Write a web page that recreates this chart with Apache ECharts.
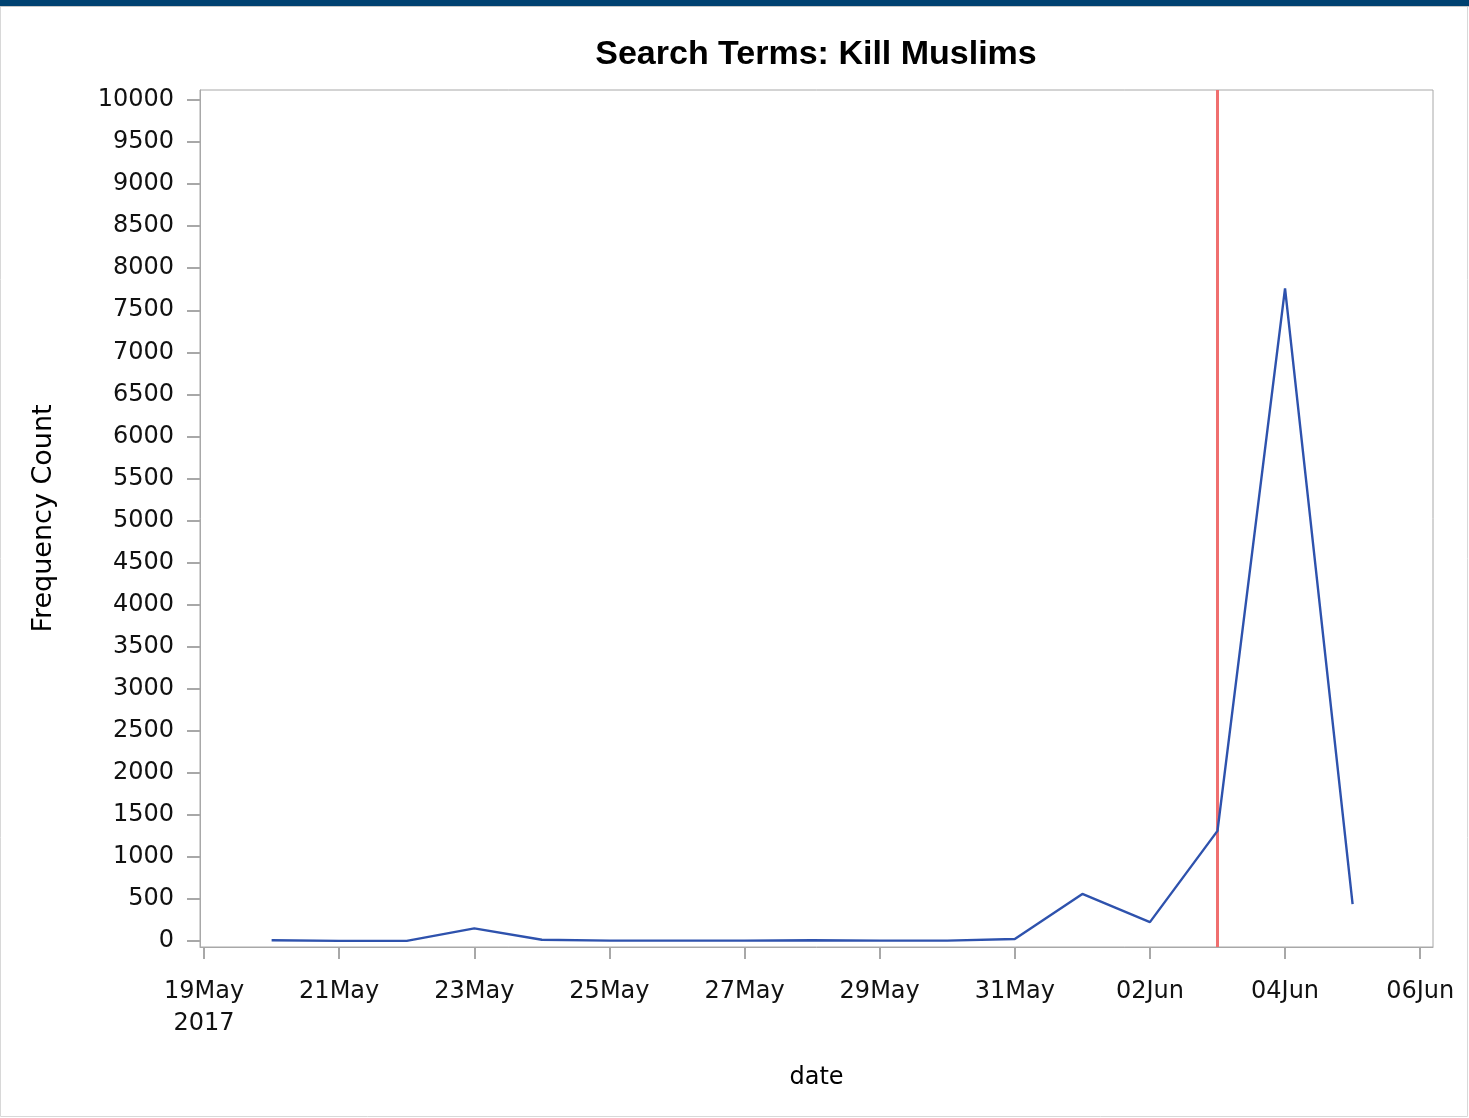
<!DOCTYPE html>
<html>
<head>
<meta charset="utf-8">
<script src="https://cdn.jsdelivr.net/npm/echarts@6/dist/echarts.min.js"></script>
<style>
html,body{margin:0;padding:0;background:#fff;}
#chart{width:1469px;height:1118px;}
</style>
</head>
<body>
<div id="chart"></div>
<script>
// ---- data ----
const startDate = '2017-05-19';
const dates = ['2017-05-20','2017-05-21','2017-05-22','2017-05-23','2017-05-24','2017-05-25','2017-05-26','2017-05-27','2017-05-28','2017-05-29','2017-05-30','2017-05-31','2017-06-01','2017-06-02','2017-06-03','2017-06-04','2017-06-05'];
const counts = [10, 2, 2, 150, 15, 5, 5, 5, 10, 5, 5, 25, 560, 225, 1310, 7760, 440];
const markerDate = '2017-06-03';
const xTickDates = ['2017-05-19','2017-05-21','2017-05-23','2017-05-25','2017-05-27','2017-05-29','2017-05-31','2017-06-02','2017-06-04','2017-06-06'];
const yTicks = [0,500,1000,1500,2000,2500,3000,3500,4000,4500,5000,5500,6000,6500,7000,7500,8000,8500,9000,9500,10000];
const monthNames = ['Jan','Feb','Mar','Apr','May','Jun','Jul','Aug','Sep','Oct','Nov','Dec'];

const DAY = 86400000;
const t0 = Date.parse(startDate + 'T00:00:00Z');
const dayIdx = d => (Date.parse(d + 'T00:00:00Z') - t0) / DAY;
const seriesData = dates.map((d, i) => [dayIdx(d), counts[i]]);
const xTickVals = xTickDates.map(dayIdx);
function fmtX(v) {
  const dt = new Date(t0 + Math.round(v) * DAY);
  const dd = String(dt.getUTCDate()).padStart(2, '0');
  let s = dd + monthNames[dt.getUTCMonth()];
  if (Math.round(v) === 0) s += '\n' + dt.getUTCFullYear();
  return s;
}

const FONT = 'DejaVu Sans';
const chart = echarts.init(document.getElementById('chart'), null, {renderer: 'canvas'});
chart.setOption({
  backgroundColor: '#ffffff',
  animation: false,
  graphic: [
    {type: 'rect', shape: {x: 0.5, y: 0.5, width: 1467, height: 1116}, style: {fill: 'none', stroke: '#d8d8d8', lineWidth: 1}, z: 0},
    {type: 'rect', shape: {x: 0, y: 0, width: 1469, height: 6}, style: {fill: '#004271'}, z: 10},
    {type: 'rect', shape: {x: 0, y: 6, width: 1469, height: 1}, style: {fill: '#c8c8c8'}, z: 10}
  ],
  title: {
    text: 'Search Terms: Kill Muslims',
    left: 811, top: 33, textAlign: 'center',
    textStyle: {fontFamily: 'Liberation Sans', fontWeight: 'bold', fontSize: 34, color: '#000'}
  },
  grid: {left: 200, top: 90, width: 1233, height: 857, show: true, borderColor: '#a8a8a8', borderWidth: 1, containLabel: false},
  xAxis: {
    type: 'value',
    min: -0.06, max: 18.19,
    name: 'date', nameLocation: 'middle', nameGap: 119,
    nameTextStyle: {fontFamily: FONT, fontSize: 24, color: '#000'},
    axisLine: {show: true, onZero: false, lineStyle: {color: '#a8a8a8', width: 1}},
    axisTick: {show: true, customValues: xTickVals, length: 12, lineStyle: {color: '#a8a8a8', width: 2}},
    axisLabel: {customValues: xTickVals, formatter: fmtX, margin: 29, fontFamily: FONT, fontSize: 24, color: '#111', lineHeight: 32, verticalAlign: 'top'},
    splitLine: {show: false}
  },
  yAxis: {
    type: 'value',
    min: -71, max: 10119,
    name: 'Frequency Count', nameLocation: 'middle', nameGap: 143, nameRotate: 90,
    nameTextStyle: {fontFamily: FONT, fontSize: 27, color: '#000'},
    axisLine: {show: true, onZero: false, lineStyle: {color: '#a8a8a8', width: 1}},
    axisTick: {show: true, customValues: yTicks, length: 13, lineStyle: {color: '#a8a8a8', width: 2}},
    axisLabel: {customValues: yTicks, formatter: v => String(v), margin: 26, fontFamily: FONT, fontSize: 24, color: '#111'},
    splitLine: {show: false}
  },
  series: [{
    type: 'line',
    data: seriesData,
    symbol: 'none',
    lineStyle: {color: '#2e52ad', width: 2.4},
    markLine: {
      silent: true, symbol: 'none', label: {show: false},
      lineStyle: {color: '#f06f6f', width: 3, type: 'solid'},
      data: [{xAxis: dayIdx(markerDate)}],
      z: 1
    },
    z: 3
  }]
});
</script>
</body>
</html>
